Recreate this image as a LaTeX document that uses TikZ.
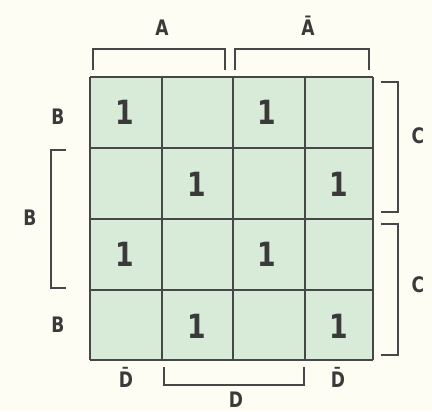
\documentclass[tikz,border=0pt]{standalone}
\usepackage{fontspec}
\setmainfont{DejaVu Sans}
\newfontfamily\kfont{DejaVu Sans}[FakeStretch=0.8]
\definecolor{bgc}{HTML}{FDFDF4}
\definecolor{cellc}{HTML}{D8EBD9}
\definecolor{linec}{HTML}{474747}
\definecolor{txtc}{HTML}{3A3A3A}
\begin{document}
\begin{tikzpicture}[x=0.75pt,y=-0.75pt,
  grid/.style={draw=linec,line width=1.4pt},
  brk/.style={draw=linec,line width=1.1pt},
  one/.style={font=\kfont\bfseries\fontsize{25}{25}\selectfont,text=txtc,inner sep=0pt},
  lbl/.style={font=\kfont\bfseries\fontsize{16}{16}\selectfont,text=txtc,inner sep=0pt}]
\useasboundingbox[fill=bgc] (0,0) rectangle (432,411);
% cells
\fill[cellc] (90,77) rectangle (373,360);
\foreach \x in {90,162,233,305,373} \draw[grid] (\x,77) -- (\x,360);
\foreach \y in {77,148,219,290,360} \draw[grid] (90,\y) -- (373,\y);
% ones
\node[one] (o11) at (125,112) {1};
\node[one] (o13) at (267,112) {1};
\node[one] (o22) at (197,184) {1};
\node[one] (o24) at (339,184) {1};
\node[one] (o31) at (125,254) {1};
\node[one] (o33) at (267,254) {1};
\node[one] (o42) at (197,326) {1};
\node[one] (o44) at (339,326) {1};
% top brackets
\draw[brk] (93,70) -- (93,49) -- (225,49) -- (225,70);
\draw[brk] (235,70) -- (235,49) -- (369,49) -- (369,70);
\node[lbl] (la) at (162,28) {A};
\node[lbl] (lab) at (308,26) {\={A}};
% right brackets
\draw[brk] (381,82) -- (398,82) -- (398,212) -- (381,212);
\draw[brk] (381,224) -- (398,224) -- (398,355) -- (381,355);
\node[lbl] (lc1) at (418,136) {C};
\node[lbl] (lc2) at (418,285) {C};
% left bracket
\draw[brk] (66,150) -- (51,150) -- (51,288) -- (66,288);
\node[lbl] (lb1) at (58,117) {B};
\node[lbl] (lb2) at (30,218) {B};
\node[lbl] (lb3) at (58,325) {B};
% bottom bracket
\draw[brk] (164,367) -- (164,385) -- (304,385) -- (304,367);
\node[lbl] (ld1) at (126,377) {\={D}};
\node[lbl] (ld2) at (338,377) {\={D}};
\node[lbl] (ld) at (236,400) {D};
\end{tikzpicture}
\end{document}
